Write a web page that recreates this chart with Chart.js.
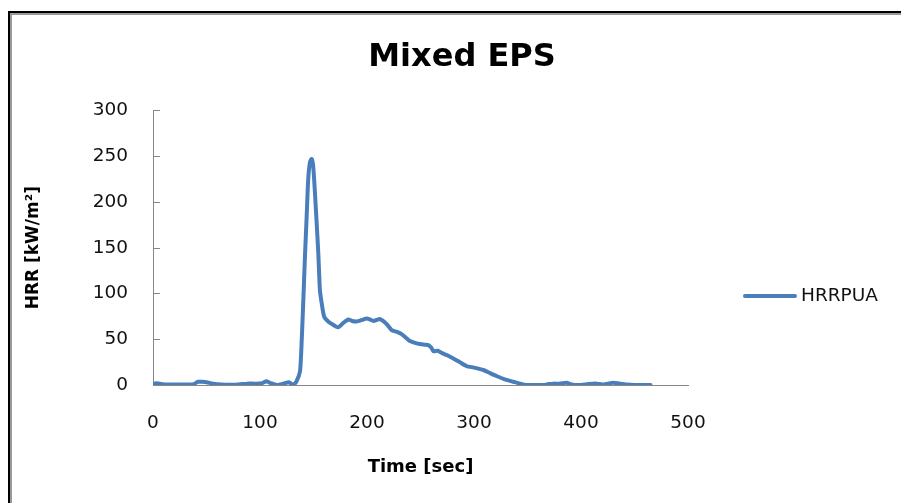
<!DOCTYPE html>
<html>
<head>
<meta charset="utf-8">
<script src="https://cdn.jsdelivr.net/npm/chart.js@4/dist/chart.umd.min.js"></script>
<style>
  html, body { margin: 0; padding: 0; background: #fff; }
  body { width: 901px; height: 503px; position: relative; overflow: hidden; }
  #frame { position: absolute; left: 8px; top: 11px; width: 1000px; height: 600px;
           border-left: 2px solid #000; border-top: 2px solid #000; box-sizing: border-box; }
  #frame::after { content: ""; position: absolute; left: 0; top: 0; right: 0; bottom: 0;
           border-left: 2.5px solid #9a9a9a; border-top: 2.5px solid #9a9a9a; }
  #wrap { position: absolute; left: 0; top: 0; width: 901px; height: 503px; }
</style>
</head>
<body>
<div id="frame"></div>
<div id="wrap"><canvas id="chart" width="901" height="503"></canvas></div>
<script>
// Heat release rate per unit area of mixed EPS, sampled over the test
const times = [0, 3, 6, 12, 20, 30, 38, 42, 46, 50, 56, 64, 72, 80, 88, 96, 102, 106, 110, 116, 122, 127, 131, 134,
  137.4, 139, 140.5, 142, 143.6, 145, 146.7, 148.3, 149.8, 151.4, 153, 154.5, 156, 157.7, 160, 164, 168, 173,
  178, 182.6, 186, 190.4, 195, 199.7, 203, 205.9, 209, 212, 215, 218.4, 223, 228, 232.4, 236, 240, 245, 249.5,
  254, 257.3, 260, 262, 266, 270, 274.5, 280.7, 287, 293, 300, 308.7, 315, 321, 328, 336.7, 343, 349, 356,
  364.8, 370, 374, 380, 386.6, 390, 394, 400, 407, 414.7, 420, 425, 430, 436, 442.7, 450, 458, 465];
const hrr = [1, 2, 1.5, 0.5, 0.5, 0.5, 1, 3.5, 3.5, 3, 1.5, 0.5, 0.3, 0.5, 1.5, 1.5, 2, 4, 2, 0, 1.5, 3, 0, 3.6,
  15, 49, 93, 140, 183.6, 223.6, 243.6, 247, 238, 209, 176, 143.6, 103.6, 89, 74.5, 69, 66, 63,
  68, 71.6, 70, 69.5, 71, 72.7, 71.5, 70, 71, 72, 70, 66.5, 60, 58, 55.6, 52, 48, 46, 44.7,
  44, 43.6, 41, 37, 37.5, 35, 32.7, 29, 24.7, 20.7, 19, 16.4, 13, 9.8, 6.5, 3.6, 1.5, 0, 0,
  0, 1, 1.5, 1.5, 2.5, 1, 0, 0, 1, 1.5, 0.5, 1.5, 2.5, 1.5, 0.5, 0, 0, 0];

const seriesName = 'HRRPUA';
const chartTitle = 'Mixed EPS';
const xTitle = 'Time [sec]';
const yTitle = 'HRR [kW/m\u00b2]';
const xTickValues = [0, 100, 200, 300, 400, 500];
const yTickValues = [0, 50, 100, 150, 200, 250, 300];

const lineColor = '#4a7ebb';
const axisColor = '#878787';
const textColor = '#111';
const FONT = "'DejaVu Sans', sans-serif";

// Short tick marks pointing into the plot from the value axis
const innerTicks = {
  id: 'innerTicks',
  afterDraw(chart) {
    const y = chart.scales.y;
    const ctx = chart.ctx;
    const left = chart.chartArea.left;
    ctx.save();
    ctx.strokeStyle = axisColor;
    ctx.lineWidth = 1;
    y.ticks.forEach(t => {
      const py = Math.round(y.getPixelForValue(t.value)) + 0.5;
      ctx.beginPath();
      ctx.moveTo(left, py);
      ctx.lineTo(left + 7, py);
      ctx.stroke();
    });
    ctx.restore();
  }
};

// Legend entry to the right of the plot
const sideLegend = {
  id: 'sideLegend',
  afterDraw(chart) {
    const ds = chart.data.datasets[0];
    const ctx = chart.ctx;
    const x0 = chart.chartArea.right + 57;
    const yc = 296;
    ctx.save();
    ctx.strokeStyle = ds.borderColor;
    ctx.lineWidth = 4;
    ctx.lineCap = 'round';
    ctx.beginPath();
    ctx.moveTo(x0, yc);
    ctx.lineTo(x0 + 50, yc);
    ctx.stroke();
    ctx.fillStyle = textColor;
    ctx.font = "18.5px " + FONT;
    ctx.textBaseline = 'middle';
    ctx.textAlign = 'left';
    ctx.fillText(ds.label, x0 + 56, yc);
    ctx.restore();
  }
};

new Chart(document.getElementById('chart'), {
  type: 'line',
  data: {
    datasets: [{
      label: seriesName,
      data: times.map((t, i) => ({ x: t, y: hrr[i] })),
      borderColor: lineColor,
      backgroundColor: lineColor,
      borderWidth: 4,
      pointRadius: 0,
      tension: 0.2,
      borderJoinStyle: 'round',
      borderCapStyle: 'round',
      fill: false
    }]
  },
  options: {
    responsive: false,
    animation: false,
    layout: { padding: { left: 23, right: 0, top: 0, bottom: 0 } },
    plugins: {
      legend: { display: false },
      tooltip: { enabled: false },
      title: {
        display: true,
        text: chartTitle,
        color: '#000',
        font: { family: FONT, size: 32, weight: 'bold' },
        padding: { top: 38, bottom: 34 }
      }
    },
    scales: {
      x: {
        type: 'linear',
        min: 0, max: 500,
        afterBuildTicks: s => { s.ticks = xTickValues.map(v => ({ value: v })); },
        afterFit: s => { s.height = 118; },
        ticks: { color: textColor, font: { family: FONT, size: 18.5 }, padding: 27, maxRotation: 0 },
        grid: { display: true, drawOnChartArea: false, drawTicks: false },
        border: { display: true, color: axisColor, width: 1 },
        title: { display: true, text: xTitle, color: '#000',
                 font: { family: FONT, size: 18, weight: 'bold' }, padding: { top: 0, bottom: 25 } }
      },
      y: {
        type: 'linear',
        min: 0, max: 300,
        afterBuildTicks: s => { s.ticks = yTickValues.map(v => ({ value: v })); },
        afterFit: s => { s.width = 130; },
        ticks: { color: textColor, font: { family: FONT, size: 18.5 }, padding: 25 },
        grid: { display: true, drawOnChartArea: false, drawTicks: false },
        border: { display: true, color: axisColor, width: 1 },
        title: { display: true, text: yTitle, color: '#000',
                 font: { family: FONT, size: 17, weight: 'bold' }, padding: { top: 0, bottom: 0 } }
      },
      // empty band on the right that holds the legend
      legendBand: {
        type: 'linear',
        position: 'right',
        afterFit: s => { s.width = 213; },
        ticks: { display: false },
        grid: { display: false, drawTicks: false },
        border: { display: false }
      }
    }
  },
  plugins: [innerTicks, sideLegend]
});
</script>
</body>
</html>
